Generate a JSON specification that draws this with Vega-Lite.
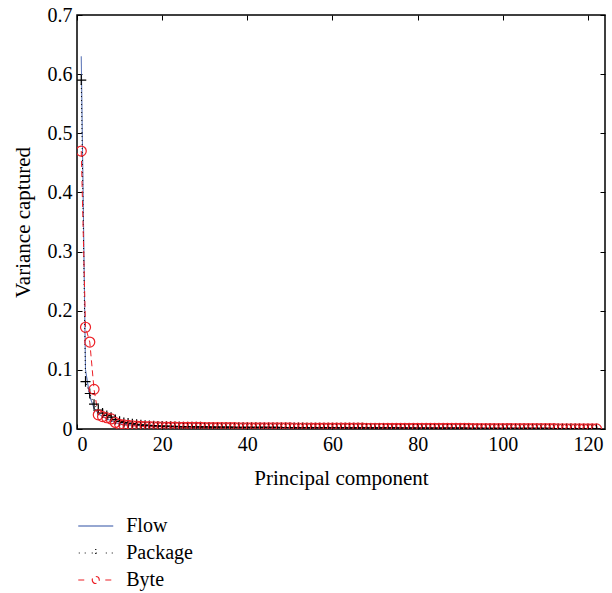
{
  "$schema": "https://vega.github.io/schema/vega-lite/v6.json",
  "width": 528,
  "height": 414,
  "padding": {"left": 12, "top": 5, "right": 5, "bottom": 5},
  "background": "white",
  "config": {
    "font": "Liberation Serif",
    "view": {"stroke": "black", "strokeWidth": 1.5},
    "axis": {
      "grid": false,
      "domain": false,
      "tickColor": "black",
      "tickWidth": 1,
      "tickSize": -5,
      "labelFont": "Liberation Serif",
      "labelFontSize": 20,
      "labelColor": "black",
      "titleFont": "Liberation Serif",
      "titleFontSize": 21,
      "titleFontWeight": "normal",
      "titleColor": "black"
    }
  },
  "data": {"values": [
    {"pc":1,"Flow":0.630,"Package":0.590,"Byte":0.470},
    {"pc":2,"Flow":0.100,"Package":0.080,"Byte":0.172},
    {"pc":3,"Flow":0.055,"Package":0.060,"Byte":0.147},
    {"pc":4,"Flow":0.035,"Package":0.042,"Byte":0.067},
    {"pc":5,"Flow":0.026,"Package":0.032,"Byte":0.024},
    {"pc":6,"Flow":0.021,"Package":0.027,"Byte":0.021},
    {"pc":7,"Flow":0.017,"Package":0.023,"Byte":0.019},
    {"pc":8,"Flow":0.014,"Package":0.020,"Byte":0.017},
    {"pc":9,"Flow":0.011,"Package":0.016,"Byte":0.011},
    {"pc":10,"Flow":0.009,"Package":0.013,"Byte":0.008},
    {"pc":11,"Flow":0.008,"Package":0.011,"Byte":0.007},
    {"pc":12,"Flow":0.007,"Package":0.010,"Byte":0.006},
    {"pc":13,"Flow":0.0065,"Package":0.009,"Byte":0.0055},
    {"pc":14,"Flow":0.006,"Package":0.008,"Byte":0.005},
    {"pc":15,"Flow":0.0055,"Package":0.007,"Byte":0.0046},
    {"pc":16,"Flow":0.0051,"Package":0.0065,"Byte":0.0042},
    {"pc":17,"Flow":0.0048,"Package":0.0060,"Byte":0.0040},
    {"pc":18,"Flow":0.0045,"Package":0.0056,"Byte":0.0038},
    {"pc":19,"Flow":0.0043,"Package":0.0052,"Byte":0.0036},
    {"pc":20,"Flow":0.0041,"Package":0.0049,"Byte":0.0034},
    {"pc":21,"Flow":0.0039,"Package":0.0047,"Byte":0.0033},
    {"pc":22,"Flow":0.0037,"Package":0.0045,"Byte":0.0032},
    {"pc":23,"Flow":0.0036,"Package":0.0043,"Byte":0.0031},
    {"pc":24,"Flow":0.0035,"Package":0.0041,"Byte":0.0030},
    {"pc":25,"Flow":0.0034,"Package":0.0040,"Byte":0.0029},
    {"pc":26,"Flow":0.0033,"Package":0.0039,"Byte":0.0028},
    {"pc":27,"Flow":0.0032,"Package":0.0038,"Byte":0.0027},
    {"pc":28,"Flow":0.0031,"Package":0.0037,"Byte":0.0027},
    {"pc":29,"Flow":0.0030,"Package":0.0036,"Byte":0.0026},
    {"pc":30,"Flow":0.0030,"Package":0.0035,"Byte":0.0025},
    {"pc":31,"Flow":0.0029,"Package":0.0034,"Byte":0.0025},
    {"pc":32,"Flow":0.0028,"Package":0.0033,"Byte":0.0024},
    {"pc":33,"Flow":0.0028,"Package":0.0033,"Byte":0.0024},
    {"pc":34,"Flow":0.0027,"Package":0.0032,"Byte":0.0023},
    {"pc":35,"Flow":0.0027,"Package":0.0031,"Byte":0.0023},
    {"pc":36,"Flow":0.0026,"Package":0.0031,"Byte":0.0022},
    {"pc":37,"Flow":0.0026,"Package":0.0030,"Byte":0.0022},
    {"pc":38,"Flow":0.0025,"Package":0.0030,"Byte":0.0021},
    {"pc":39,"Flow":0.0025,"Package":0.0029,"Byte":0.0021},
    {"pc":40,"Flow":0.0024,"Package":0.0029,"Byte":0.0021},
    {"pc":41,"Flow":0.0024,"Package":0.0028,"Byte":0.0020},
    {"pc":42,"Flow":0.0023,"Package":0.0028,"Byte":0.0020},
    {"pc":43,"Flow":0.0023,"Package":0.0027,"Byte":0.0020},
    {"pc":44,"Flow":0.0023,"Package":0.0027,"Byte":0.0019},
    {"pc":45,"Flow":0.0022,"Package":0.0026,"Byte":0.0019},
    {"pc":46,"Flow":0.0022,"Package":0.0026,"Byte":0.0019},
    {"pc":47,"Flow":0.0022,"Package":0.0026,"Byte":0.0018},
    {"pc":48,"Flow":0.0021,"Package":0.0025,"Byte":0.0018},
    {"pc":49,"Flow":0.0021,"Package":0.0025,"Byte":0.0018},
    {"pc":50,"Flow":0.0021,"Package":0.0025,"Byte":0.0018},
    {"pc":51,"Flow":0.0020,"Package":0.0024,"Byte":0.0017},
    {"pc":52,"Flow":0.0020,"Package":0.0024,"Byte":0.0017},
    {"pc":53,"Flow":0.0020,"Package":0.0024,"Byte":0.0017},
    {"pc":54,"Flow":0.0019,"Package":0.0023,"Byte":0.0017},
    {"pc":55,"Flow":0.0019,"Package":0.0023,"Byte":0.0016},
    {"pc":56,"Flow":0.0019,"Package":0.0023,"Byte":0.0016},
    {"pc":57,"Flow":0.0019,"Package":0.0022,"Byte":0.0016},
    {"pc":58,"Flow":0.0018,"Package":0.0022,"Byte":0.0016},
    {"pc":59,"Flow":0.0018,"Package":0.0022,"Byte":0.0015},
    {"pc":60,"Flow":0.0018,"Package":0.0021,"Byte":0.0015},
    {"pc":61,"Flow":0.0018,"Package":0.0021,"Byte":0.0015},
    {"pc":62,"Flow":0.0017,"Package":0.0021,"Byte":0.0015},
    {"pc":63,"Flow":0.0017,"Package":0.0021,"Byte":0.0014},
    {"pc":64,"Flow":0.0017,"Package":0.0020,"Byte":0.0014},
    {"pc":65,"Flow":0.0017,"Package":0.0020,"Byte":0.0014},
    {"pc":66,"Flow":0.0016,"Package":0.0020,"Byte":0.0014},
    {"pc":67,"Flow":0.0016,"Package":0.0020,"Byte":0.0014},
    {"pc":68,"Flow":0.0016,"Package":0.0019,"Byte":0.0013},
    {"pc":69,"Flow":0.0016,"Package":0.0019,"Byte":0.0013},
    {"pc":70,"Flow":0.0015,"Package":0.0019,"Byte":0.0013},
    {"pc":71,"Flow":0.0015,"Package":0.0019,"Byte":0.0013},
    {"pc":72,"Flow":0.0015,"Package":0.0018,"Byte":0.0013},
    {"pc":73,"Flow":0.0015,"Package":0.0018,"Byte":0.0012},
    {"pc":74,"Flow":0.0014,"Package":0.0018,"Byte":0.0012},
    {"pc":75,"Flow":0.0014,"Package":0.0018,"Byte":0.0012},
    {"pc":76,"Flow":0.0014,"Package":0.0017,"Byte":0.0012},
    {"pc":77,"Flow":0.0014,"Package":0.0017,"Byte":0.0012},
    {"pc":78,"Flow":0.0013,"Package":0.0017,"Byte":0.0011},
    {"pc":79,"Flow":0.0013,"Package":0.0017,"Byte":0.0011},
    {"pc":80,"Flow":0.0013,"Package":0.0016,"Byte":0.0011},
    {"pc":81,"Flow":0.0013,"Package":0.0016,"Byte":0.0011},
    {"pc":82,"Flow":0.0012,"Package":0.0016,"Byte":0.0011},
    {"pc":83,"Flow":0.0012,"Package":0.0016,"Byte":0.0010},
    {"pc":84,"Flow":0.0012,"Package":0.0015,"Byte":0.0010},
    {"pc":85,"Flow":0.0012,"Package":0.0015,"Byte":0.0010},
    {"pc":86,"Flow":0.0011,"Package":0.0015,"Byte":0.0010},
    {"pc":87,"Flow":0.0011,"Package":0.0015,"Byte":0.0010},
    {"pc":88,"Flow":0.0011,"Package":0.0014,"Byte":0.0009},
    {"pc":89,"Flow":0.0011,"Package":0.0014,"Byte":0.0009},
    {"pc":90,"Flow":0.0010,"Package":0.0014,"Byte":0.0009},
    {"pc":91,"Flow":0.0010,"Package":0.0014,"Byte":0.0009},
    {"pc":92,"Flow":0.0010,"Package":0.0013,"Byte":0.0009},
    {"pc":93,"Flow":0.0010,"Package":0.0013,"Byte":0.0008},
    {"pc":94,"Flow":0.0009,"Package":0.0013,"Byte":0.0008},
    {"pc":95,"Flow":0.0009,"Package":0.0013,"Byte":0.0008},
    {"pc":96,"Flow":0.0009,"Package":0.0012,"Byte":0.0008},
    {"pc":97,"Flow":0.0009,"Package":0.0012,"Byte":0.0008},
    {"pc":98,"Flow":0.0008,"Package":0.0012,"Byte":0.0007},
    {"pc":99,"Flow":0.0008,"Package":0.0012,"Byte":0.0007},
    {"pc":100,"Flow":0.0008,"Package":0.0011,"Byte":0.0007},
    {"pc":101,"Flow":0.0008,"Package":0.0011,"Byte":0.0007},
    {"pc":102,"Flow":0.0007,"Package":0.0011,"Byte":0.0007},
    {"pc":103,"Flow":0.0007,"Package":0.0011,"Byte":0.0006},
    {"pc":104,"Flow":0.0007,"Package":0.0010,"Byte":0.0006},
    {"pc":105,"Flow":0.0007,"Package":0.0010,"Byte":0.0006},
    {"pc":106,"Flow":0.0006,"Package":0.0010,"Byte":0.0006},
    {"pc":107,"Flow":0.0006,"Package":0.0010,"Byte":0.0006},
    {"pc":108,"Flow":0.0006,"Package":0.0009,"Byte":0.0005},
    {"pc":109,"Flow":0.0006,"Package":0.0009,"Byte":0.0005},
    {"pc":110,"Flow":0.0005,"Package":0.0009,"Byte":0.0005},
    {"pc":111,"Flow":0.0005,"Package":0.0009,"Byte":0.0005},
    {"pc":112,"Flow":0.0005,"Package":0.0008,"Byte":0.0005},
    {"pc":113,"Flow":0.0005,"Package":0.0008,"Byte":0.0004},
    {"pc":114,"Flow":0.0004,"Package":0.0008,"Byte":0.0004},
    {"pc":115,"Flow":0.0004,"Package":0.0008,"Byte":0.0004},
    {"pc":116,"Flow":0.0004,"Package":0.0007,"Byte":0.0004},
    {"pc":117,"Flow":0.0004,"Package":0.0007,"Byte":0.0004},
    {"pc":118,"Flow":0.0003,"Package":0.0007,"Byte":0.0003},
    {"pc":119,"Flow":0.0003,"Package":0.0006,"Byte":0.0003},
    {"pc":120,"Flow":0.0003,"Package":0.0006,"Byte":0.0003},
    {"pc":121,"Flow":0.0002,"Package":0.0005,"Byte":0.0003},
    {"pc":122,"Flow":0.0002,"Package":0.0004,"Byte":0.0002}
  ]},
  "transform": [{"fold": ["Flow", "Package", "Byte"], "as": ["series", "v"]}],
  "layer": [
    {
      "mark": {"type": "line", "strokeWidth": 1, "clip": true},
      "encoding": {
        "x": {"field": "pc", "type": "quantitative",
              "scale": {"domain": [0, 124], "nice": false, "zero": false},
              "axis": {"orient": "bottom", "values": [0, 20, 40, 60, 80, 100, 120], "format": "d",
                       "title": "Principal component", "labelPadding": 10, "titlePadding": 13}},
        "y": {"field": "v", "type": "quantitative",
              "scale": {"domain": [0, 0.7], "nice": false},
              "axis": {"orient": "left", "values": [0, 0.1, 0.2, 0.3, 0.4, 0.5, 0.6, 0.7], "format": ".1~f",
                       "title": "Variance captured", "labelPadding": 10, "titlePadding": 14}},
        "color": {"field": "series", "type": "nominal",
                  "scale": {"domain": ["Flow", "Package", "Byte"], "range": ["#2d4ea3", "#000000", "#ec2027"]},
                  "legend": {
                    "orient": "none", "legendX": 8.75, "legendY": 501, "title": null,
                    "direction": "vertical", "symbolSize": 306, "labelOffset": 20.5, "rowPadding": 7,
                    "labelFontSize": 20, "labelFont": "Liberation Serif", "labelColor": "black",
                    "symbolStrokeWidth": 1.2,
                    "encode": {"symbols": {"update": {
                      "shape": {"signal": "datum.value === 'Flow' ? 'M-2,0H2' : datum.value === 'Package' ? 'M-1.94,0H-1.83M-1.26,0H-1.15M1.15,0H1.26M1.83,0H1.94M-0.46,0H0.46M0,-0.46V0.46' : 'M-2,0H-1.09M1.09,0H2M-0.4,0A0.4,0.4 0 1,0 0.4,0A0.4,0.4 0 1,0 -0.4,0'"},
                      "strokeDash": {"value": []}
                    }}}
                  }},
        "strokeDash": {"field": "series", "type": "nominal",
                       "scale": {"domain": ["Flow", "Package", "Byte"], "range": [[1, 0], [1, 3], [6, 4]]},
                       "legend": null}
      }
    },
    {
      "transform": [{"filter": "datum.series !== 'Flow'"}],
      "mark": {"type": "point", "filled": false, "size": 100, "strokeWidth": 1.2, "opacity": 1, "clip": true},
      "encoding": {
        "x": {"field": "pc", "type": "quantitative",
              "axis": {"orient": "top", "values": [0, 20, 40, 60, 80, 100, 120], "labels": false, "title": null}},
        "y": {"field": "v", "type": "quantitative",
              "axis": {"orient": "right", "values": [0, 0.1, 0.2, 0.3, 0.4, 0.5, 0.6, 0.7], "labels": false, "title": null}},
        "color": {"field": "series", "type": "nominal", "legend": null},
        "shape": {"field": "series", "type": "nominal",
                  "scale": {"domain": ["Package", "Byte"], "range": ["M-1,0H1M0,-1V1", "circle"]},
                  "legend": null}
      }
    }
  ]
}
